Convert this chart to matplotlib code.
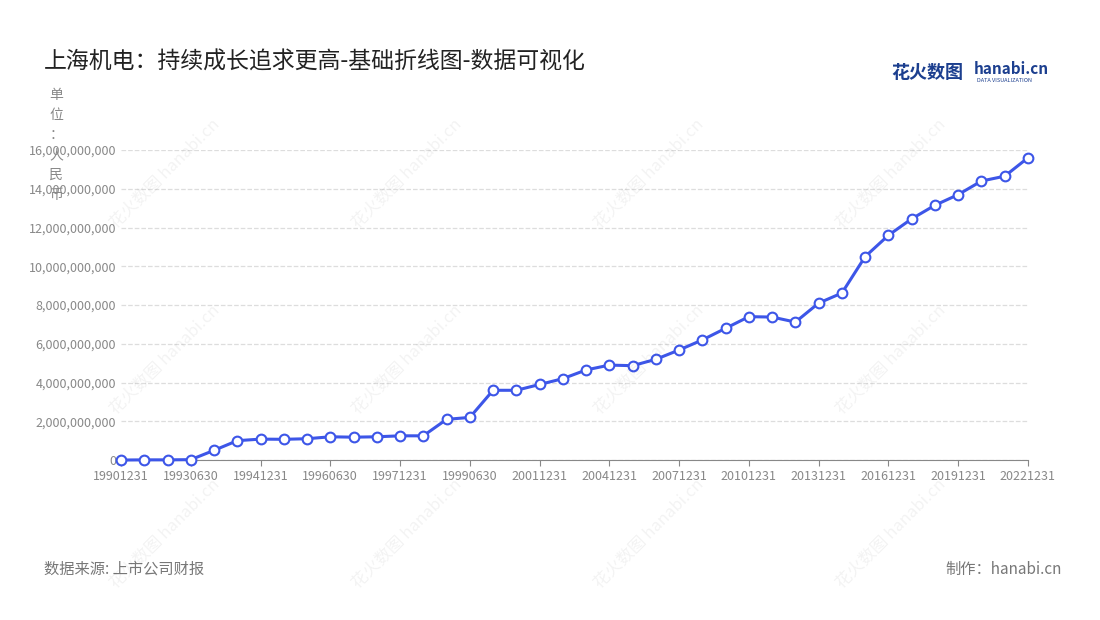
import matplotlib.pyplot as plt
from matplotlib.ticker import FuncFormatter

plt.rcParams['font.family'] = ['Noto Sans CJK SC', 'DejaVu Sans']

dates = ['19901231', '19911231', '19921231', '19930630', '19931231', '19940630',
         '19941231', '19950630', '19951231', '19960630', '19961231', '19970630',
         '19971231', '19980630', '19981231', '19990630', '19991231', '20001231'] + \
        [f'{y}1231' for y in range(2001, 2023)]
revenue = [0, 0.01, 0.01, 0.02, 0.5, 1.0, 1.08, 1.07, 1.1, 1.2, 1.18, 1.2,
           1.25, 1.25, 2.1, 2.2, 3.6, 3.6, 3.9, 4.2, 4.65, 4.9, 4.87, 5.2,
           5.68, 6.2, 6.8, 7.4, 7.38, 7.12, 8.1, 8.62, 10.5, 11.6, 12.45, 13.15,
           13.7, 14.4, 14.65, 15.6]
revenue = [v * 1e9 for v in revenue]
tick_idx = [0, 3, 6, 9, 12, 15, 18, 21, 24, 27, 30, 33, 36, 39]

fig = plt.figure(figsize=(11, 6.2), dpi=100)
ax = fig.add_axes([0.11, 0.258, 0.8245, 0.5])
x = list(range(len(dates)))
ax.plot(x, revenue, color='#3d56e8', lw=2.2, marker='o', ms=7,
        mfc='white', mec='#3d56e8', mew=1.5, zorder=3, clip_on=False)
ax.set_xlim(0, len(dates) - 1)
ax.set_ylim(0, 16e9)
ax.set_yticks([i * 2e9 for i in range(9)])
ax.yaxis.set_major_formatter(FuncFormatter(lambda v, p: f'{v:,.0f}'))
ax.set_xticks(tick_idx)
ax.set_xticklabels([dates[i] for i in tick_idx])
ax.tick_params(axis='both', colors='#888888', labelsize=9, length=0)
ax.tick_params(axis='x', length=4, color='#888888')
ax.grid(axis='y', ls='--', color='#dddddd', lw=0.9)
for s in ['top', 'right', 'left']:
    ax.spines[s].set_visible(False)
ax.spines['bottom'].set_color('#888888')

fig.text(0.04, 0.89, '上海机电：持续成长追求更高-基础折线图-数据可视化', fontsize=16.5, color='#222222')
fig.text(0.045, 0.858, '单\n位\n：\n人\n民\n币', fontsize=10, color='#888888',
         va='top', linespacing=1.55)
fig.text(0.04, 0.075, '数据来源: 上市公司财报', fontsize=11, color='#777777')
fig.text(0.965, 0.075, '制作：hanabi.cn', fontsize=11, color='#777777', ha='right')
fig.text(0.81, 0.875, '花火数图', fontsize=13, color='#1c3f8f', weight='bold')
fig.text(0.885, 0.88, 'hanabi.cn', fontsize=11, color='#1c3f8f', weight='bold')
fig.text(0.888, 0.867, 'DATA VISUALIZATION', fontsize=4, color='#1c3f8f')

for wx in [0.15, 0.37, 0.59, 0.81]:
    for wy in [0.14, 0.42, 0.72]:
        fig.text(wx, wy, '花火数图 hanabi.cn', fontsize=12, color='#000000',
                 alpha=0.05, rotation=45, ha='center', va='center')

fig.savefig('out.png')
